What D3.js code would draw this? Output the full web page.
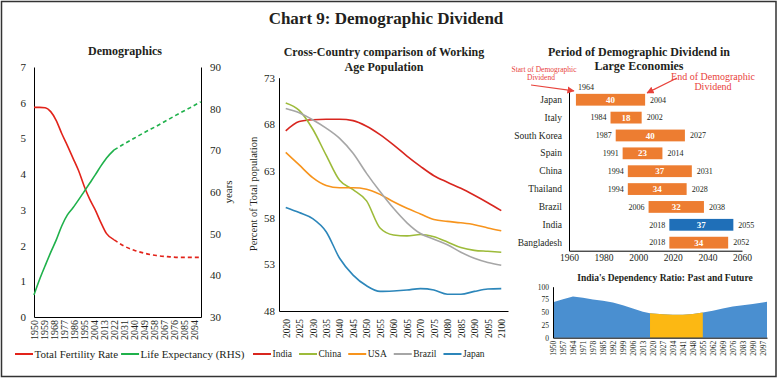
<!DOCTYPE html>
<html><head><meta charset="utf-8">
<script src="https://cdn.jsdelivr.net/npm/d3@7"></script>
<style>
body{margin:0;background:#fff;}
svg{display:block;}
</style></head><body>
<svg id="c" width="778" height="380"></svg>
<script>
// ---------------- DATA ----------------
const mainTitle = "Chart 9: Demographic Dividend";

// Panel 1: Demographics (India)
const demoTitle = "Demographics";
const demoYears = [1950,1955,1960,1965,1970,1975,1980,1985,1990,1995,2000,2005,2010,2015,2022,2030,2040,2050,2060,2070,2080,2090,2100];
const tfr       = [5.87,5.87,5.86,5.75,5.5,5.13,4.8,4.45,4.1,3.67,3.3,3.0,2.65,2.34,2.16,2.0,1.87,1.78,1.72,1.69,1.67,1.67,1.67];
const lifeExp   = [35.3,39.0,42.3,45.5,48.5,51.9,54.5,56.2,58.1,60.1,62.1,64.1,66.2,68.1,70.1,71.4,72.9,74.4,75.8,77.3,78.8,80.2,81.7];
const demoSplitYear = 2022;
const demoTickYears = [1950,1959,1968,1977,1986,1995,2004,2013,2022,2031,2040,2049,2058,2067,2076,2085,2094];
const demoLeftTicks = [0,1,2,3,4,5,6,7];
const demoRightTicks = [30,40,50,60,70,80,90];
const demoLegend = ["Total Fertility Rate","Life Expectancy (RHS)"];
const demoRightLabel = "years";

// Panel 2: Working age population
const wapTitle = ["Cross-Country comparison of Working","Age Population"];
const wapYears = [2020,2025,2030,2035,2040,2045,2050,2055,2060,2065,2070,2075,2080,2085,2090,2095,2100];
const wapIndia  = [67.3,68.3,68.5,68.55,68.55,68.4,67.8,66.9,65.8,64.6,63.5,62.5,61.8,61.15,60.4,59.6,58.75];
const wapChina  = [70.3,69.5,67.5,64.7,62.0,61.0,59.8,56.9,56.15,56.05,56.2,55.95,55.4,54.8,54.5,54.4,54.3];
const wapUSA    = [65.0,63.65,62.3,61.45,61.2,61.2,61.05,60.5,59.7,59.0,58.4,57.8,57.6,57.45,57.25,56.9,56.6];
const wapBrazil = [69.7,69.25,68.5,67.6,66.5,64.9,62.75,60.8,59.0,57.45,56.3,55.7,55.1,54.3,53.65,53.2,52.9];
const wapJapan  = [59.1,58.55,57.9,56.5,53.65,51.85,50.7,50.1,50.15,50.25,50.4,50.25,49.8,49.8,50.1,50.35,50.4];
const wapSeriesNames = ["India","China","USA","Brazil","Japan"];
const wapTicks = [48,53,58,63,68,73];
const wapYLabel = "Percent of Total population";

// Panel 3: Period of demographic dividend
const ddTitle = ["Period of Demographic Dividend in","Large Economies"];
const ddCountries = ["Japan","Italy","South Korea","Spain","China","Thailand","Brazil","India","Bangladesh"];
const ddStart = [1964,1984,1987,1991,1994,1994,2006,2018,2018];
const ddEnd   = [2004,2002,2027,2014,2031,2028,2038,2055,2052];
const ddSpan  = [40,18,40,23,37,34,32,37,34];
const ddHighlight = "India";
const ddTicks = [1960,1980,2000,2020,2040,2060];
const ddStartNote = ["Start of Demographic","Dividend"];
const ddEndNote = ["End of Demographic","Dividend"];

// Panel 4: India's dependency ratio
const depTitle = "India's Dependency Ratio: Past and Future";
const depYears = [1950,1957,1964,1971,1978,1985,1992,1999,2006,2013,2018,2020,2027,2034,2041,2048,2055,2062,2069,2076,2083,2090,2097,2100];
const depRatio = [69.4,75.5,81.0,78.5,75.0,72.5,69.0,63.5,57.5,51.0,48.0,47.3,45.8,45.0,45.0,46.5,49.5,53.0,57.5,61.0,63.5,66.0,69.0,70.5];
const depTicks = [0,25,50,75,100];
const depTickYears = [1950,1957,1964,1971,1978,1985,1992,1999,2006,2013,2020,2027,2034,2041,2048,2055,2062,2069,2076,2083,2090,2097];

// ---------------- STYLE ----------------
const FONT = '"Liberation Serif","Times New Roman",serif';
const INK = "#231f20";
const cRed = "#E2231A", cGreen = "#1FB14B";
const wapColors = ["#D8261F","#9DBB3A","#F7941D","#A6A6A6","#2C86BA"];
const cOrange = "#ED7D31", cBlue = "#1F6FB8";
const cDepBlue = "#4A8FD0", cDepGold = "#FCB813";
const cNote = "#E8433C";

const svg = d3.select("#c").attr("font-family", FONT);
svg.append("rect").attr("x",1.5).attr("y",1.5).attr("width",774.5).attr("height",375)
  .attr("fill","#fff").attr("stroke","#333").attr("stroke-width",1.5);
svg.append("text").attr("x",386).attr("y",24).attr("text-anchor","middle")
  .attr("font-size",17).attr("font-weight","bold").attr("fill",INK).text(mainTitle);

function styleAxis(g, size){
  g.attr("font-family", FONT).attr("font-size", size);
  g.selectAll("text").attr("fill", INK);
  g.select(".domain").attr("stroke","#000").attr("stroke-width",1);
  g.selectAll(".tick line").remove();
}
function rotateLabels(g, off){
  g.selectAll("text").attr("transform","rotate(-90)").attr("x",-off).attr("y",0)
    .attr("dy","0.35em").attr("text-anchor","end");
}
function legend(g, x0, y, items, colors, fs, lineLen, gap){
  let x = x0;
  items.forEach((name,i)=>{
    g.append("line").attr("x1",x).attr("x2",x+lineLen).attr("y1",y).attr("y2",y)
      .attr("stroke",colors[i]).attr("stroke-width",2);
    const t = g.append("text").attr("x",x+lineLen+1.5).attr("y",y).attr("dy","0.33em")
      .attr("font-size",fs).attr("fill",INK).text(name);
    x += lineLen + 1.5 + t.node().getComputedTextLength() + gap;
  });
}

// ---------------- PANEL 1 ----------------
{
  const g = svg.append("g");
  const x = d3.scaleLinear().domain([1950,2100]).range([34,201]);
  const yL = d3.scaleLinear().domain([0,7]).range([317,67]);
  const yR = d3.scaleLinear().domain([30,90]).range([317,67]);
  g.append("text").attr("x",125).attr("y",55).attr("text-anchor","middle")
    .attr("font-size",12).attr("font-weight","bold").attr("fill",INK).text(demoTitle);
  const aL = g.append("g").attr("transform","translate(34,0)")
    .call(d3.axisLeft(yL).tickValues(demoLeftTicks).tickSize(0).tickSizeOuter(0).tickPadding(8).tickFormat(d3.format("d")));
  styleAxis(aL, 11);
  const aR = g.append("g").attr("transform","translate(201,0)")
    .call(d3.axisRight(yR).tickValues(demoRightTicks).tickSize(0).tickSizeOuter(0).tickPadding(9));
  styleAxis(aR, 11);
  const aB = g.append("g").attr("transform","translate(0,317)")
    .call(d3.axisBottom(x).tickValues(demoTickYears).tickSize(0).tickSizeOuter(0).tickFormat(d3.format("d")));
  styleAxis(aB, 10);
  rotateLabels(aB, 3);
  g.append("text").attr("transform","translate(228,192) rotate(-90)").attr("text-anchor","middle")
    .attr("dy","0.35em").attr("font-size",11).attr("fill",INK).text(demoRightLabel);

  const pts = (vals)=>demoYears.map((yr,i)=>({yr,v:vals[i]}));
  const lineL = d3.line().x(d=>x(d.yr)).y(d=>yL(d.v)).curve(d3.curveMonotoneX);
  const lineR = d3.line().x(d=>x(d.yr)).y(d=>yR(d.v)).curve(d3.curveMonotoneX);
  const drawSplit = (data, gen, color)=>{
    g.append("path").datum(data.filter(d=>d.yr<=demoSplitYear)).attr("d",gen)
      .attr("fill","none").attr("stroke",color).attr("stroke-width",1.6);
    g.append("path").datum(data.filter(d=>d.yr>=demoSplitYear)).attr("d",gen)
      .attr("fill","none").attr("stroke",color).attr("stroke-width",1.6).attr("stroke-dasharray","4,3");
  };
  drawSplit(pts(tfr), lineL, cRed);
  drawSplit(pts(lifeExp), lineR, cGreen);
  legend(g, 15, 354, demoLegend, [cRed,cGreen], 11, 18, 3);
}

// ---------------- PANEL 2 ----------------
{
  const g = svg.append("g");
  const x = d3.scalePoint().domain(wapYears).range([279,508]).padding(0.5);
  const y = d3.scaleLinear().domain([48,73]).range([311,77.7]);
  wapTitle.forEach((t,i)=>g.append("text").attr("x",384).attr("y",56+i*14.5).attr("text-anchor","middle")
    .attr("font-size",12).attr("font-weight","bold").attr("fill",INK).text(t));
  const aL = g.append("g").attr("transform","translate(279,0)")
    .call(d3.axisLeft(y).tickValues(wapTicks).tickSize(0).tickSizeOuter(0).tickPadding(4));
  styleAxis(aL, 11);
  const aB = g.append("g").attr("transform","translate(0,311)")
    .call(d3.axisBottom(x).tickSize(0).tickSizeOuter(0));
  styleAxis(aB, 9.5);
  rotateLabels(aB, 8);
  g.append("text").attr("transform","translate(253,194) rotate(-90)").attr("text-anchor","middle")
    .attr("dy","0.35em").attr("font-size",10.5).attr("fill",INK).text(wapYLabel);
  const series = [wapIndia,wapChina,wapUSA,wapBrazil,wapJapan];
  const line = d3.line().x((d,i)=>x(wapYears[i])).y(d=>y(d)).curve(d3.curveMonotoneX);
  series.forEach((s,i)=>g.append("path").datum(s).attr("d",line).attr("fill","none")
    .attr("stroke",wapColors[i]).attr("stroke-width",1.6));
  legend(g, 253, 354, wapSeriesNames, wapColors, 9.5, 18, 7);
}

// ---------------- PANEL 3 ----------------
{
  const g = svg.append("g");
  const x = d3.scaleLinear().domain([1960,2060]).range([569,742]);
  const y = d3.scaleBand().domain(ddCountries).range([91.7,250.7]).paddingInner(0.34).paddingOuter(0.12);
  ddTitle.forEach((t,i)=>g.append("text").attr("x",639).attr("y",55.5+i*14.5).attr("text-anchor","middle")
    .attr("font-size",12).attr("font-weight","bold").attr("fill",INK).text(t));
  const aL = g.append("g").attr("transform","translate(569,0)")
    .call(d3.axisLeft(y).tickSize(0).tickSizeOuter(0).tickPadding(7));
  styleAxis(aL, 9.5);
  const aB = g.append("g").attr("transform","translate(0,250.7)")
    .call(d3.axisBottom(x).tickValues(ddTicks).tickSize(0).tickSizeOuter(0).tickPadding(4).tickFormat(d3.format("d")));
  styleAxis(aB, 9.5);
  const rows = ddCountries.map((c,i)=>({c,s:ddStart[i],e:ddEnd[i],n:ddSpan[i]}));
  g.selectAll("rect.bar").data(rows).join("rect").attr("class","bar")
    .attr("x",d=>x(d.s)).attr("y",d=>y(d.c)).attr("width",d=>x(d.e)-x(d.s)).attr("height",y.bandwidth())
    .attr("fill",d=>d.c===ddHighlight?cBlue:cOrange);
  g.selectAll("text.val").data(rows).join("text").attr("class","val")
    .attr("x",d=>(x(d.s)+x(d.e))/2).attr("y",d=>y(d.c)+y.bandwidth()/2).attr("dy","0.35em")
    .attr("text-anchor","middle").attr("font-size",9).attr("font-weight","bold").attr("fill","#fff").text(d=>d.n);
  g.selectAll("text.st").data(rows).join("text").attr("class","st")
    .attr("x",(d,i)=>i===0 ? x(d.s)+10 : x(d.s)-4)
    .attr("y",(d,i)=>i===0 ? y(d.c)-4 : y(d.c)+y.bandwidth()/2)
    .attr("dy",(d,i)=>i===0 ? "0" : "0.35em")
    .attr("text-anchor",(d,i)=>i===0 ? "middle" : "end")
    .attr("font-size",8).attr("fill",INK).text(d=>d.s);
  g.selectAll("text.en").data(rows).join("text").attr("class","en")
    .attr("x",d=>x(d.e)+5).attr("y",d=>y(d.c)+y.bandwidth()/2).attr("dy","0.35em")
    .attr("font-size",8).attr("fill",INK).text(d=>d.e);
  // annotations
  const defs = svg.append("defs");
  defs.append("marker").attr("id","arr").attr("viewBox","0 0 10 10").attr("refX",9).attr("refY",5)
    .attr("markerWidth",6).attr("markerHeight",6).attr("orient","auto")
    .append("path").attr("d","M0,0L10,5L0,10z").attr("fill",cNote);
  ddStartNote.forEach((t,i)=>g.append("text").attr("x",i===0?544:541).attr("y",72+i*8).attr("text-anchor","middle")
    .attr("font-size",7.5).attr("fill",cNote).text(t));
  ddEndNote.forEach((t,i)=>g.append("text").attr("x",713).attr("y",80+i*10).attr("text-anchor","middle")
    .attr("font-size",10).attr("fill",cNote).text(t));
  const j = rows[0];
  g.append("line").attr("x1",531).attr("y1",85).attr("x2",x(j.s)-2).attr("y2",y(j.c)-3)
    .attr("stroke",cNote).attr("stroke-width",1.2).attr("marker-end","url(#arr)");
  g.append("line").attr("x1",677).attr("y1",78).attr("x2",x(j.e)+2).attr("y2",y(j.c)-1)
    .attr("stroke",cNote).attr("stroke-width",1.2).attr("marker-end","url(#arr)");
}

// ---------------- PANEL 4 ----------------
{
  const g = svg.append("g");
  const x = d3.scaleLinear().domain([1950,2100]).range([553,767]);
  const y = d3.scaleLinear().domain([0,100]).range([337.7,286.7]);
  g.append("text").attr("x",665).attr("y",280.5).attr("text-anchor","middle")
    .attr("font-size",9.5).attr("font-weight","bold").attr("fill",INK).text(depTitle);
  const data = depYears.map((yr,i)=>({yr,v:depRatio[i]}));
  const area = d3.area().x(d=>x(d.yr)).y0(y(0)).y1(d=>y(d.v));
  g.append("path").datum(data).attr("d",area).attr("fill",cDepBlue);
  const iRow = ddCountries.indexOf("India");
  const s = ddStart[iRow], e = ddEnd[iRow];
  g.append("path").datum(data.filter(d=>d.yr>=s && d.yr<=e)).attr("d",area).attr("fill",cDepGold);
  const aL = g.append("g").attr("transform","translate(553,0)")
    .call(d3.axisLeft(y).tickValues(depTicks).tickSize(0).tickSizeOuter(0).tickPadding(4));
  styleAxis(aL, 7.5);
  const aB = g.append("g").attr("transform","translate(0,337.7)")
    .call(d3.axisBottom(x).tickValues(depTickYears).tickSize(0).tickSizeOuter(0).tickFormat(d3.format("d")));
  styleAxis(aB, 7.5);
  rotateLabels(aB, 3);
}
</script>
</body></html>
